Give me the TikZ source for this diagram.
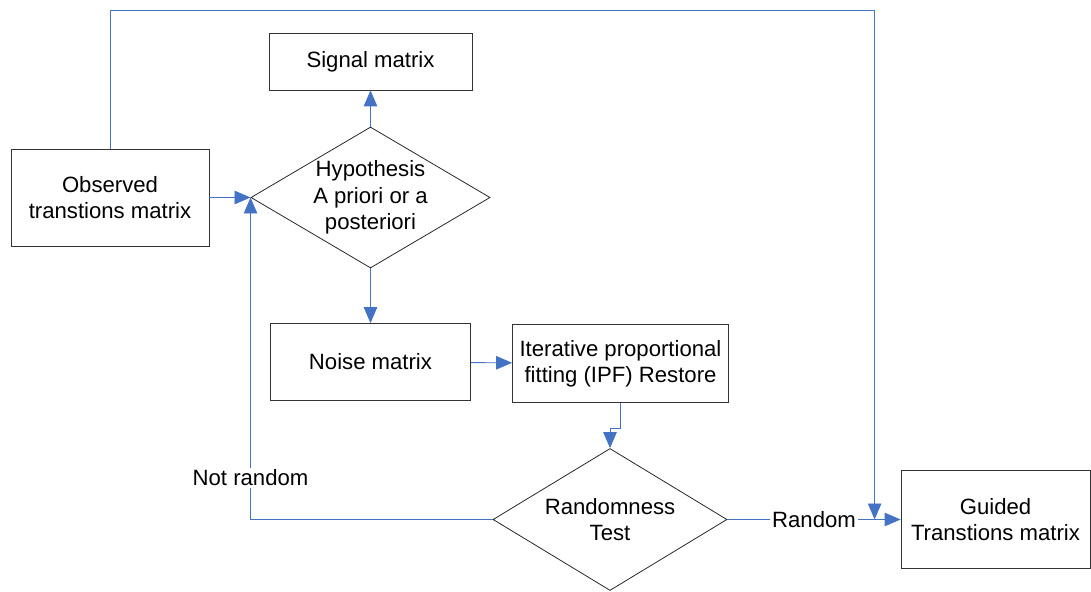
\documentclass[tikz,border=0pt]{standalone}
\usepackage{fontspec}
\setmainfont{Liberation Sans}
\usepackage{tikz}
\usetikzlibrary{positioning,arrows.meta,shapes.geometric,calc}
\definecolor{flowblue}{HTML}{4472C4}

\begin{document}
\begin{tikzpicture}[node distance=2cm,
        font=\fontsize{12.6}{15}\selectfont,
        box/.style={draw=black!80, line width=0.45pt, rectangle, align=center},
        decision/.style={draw=black!85, line width=0.45pt, diamond, aspect=1.7, inner sep=0pt, align=center, minimum width=4.68cm, minimum height=2.82cm},
        flow/.style={draw=flowblue, line width=0.5pt, -{Triangle[length=3.2mm,width=2.7mm]}},
        edgelabel/.style={fill=white, inner sep=1pt}]
        \useasboundingbox (0,0) rectangle (21.82,-11.84);
        \node (hyp) [decision] at (7.41,-3.95) {Hypothesis\\A priori or a\\posteriori};
        \node (signal) [box, minimum width=4.06cm, minimum height=1.14cm, above of=hyp, node distance=2.72cm] {Signal matrix};
        \node (obs) [box, minimum width=3.96cm, minimum height=1.94cm, left of=hyp, node distance=5.21cm] {Observed\\transtions matrix};
        \node (noise) [box, minimum width=4cm, minimum height=1.54cm, below of=hyp, node distance=3.29cm] {Noise matrix};
        \node (ipf) [box, minimum width=4.32cm, minimum height=1.56cm, right of=noise, node distance=5.0cm, yshift=-0.03cm] {Iterative proportional\\fitting (IPF) Restore};
        \node (rand) [decision, minimum height=2.84cm] at (12.2,-10.39) {Randomness\\Test};
        \node (guided) [box, minimum width=3.78cm, minimum height=1.96cm, right of=rand, node distance=7.71cm] {Guided\\Transtions matrix};
        \coordinate (join) at ($(guided.west)+(-0.52,0)$);

        \draw[flow] (obs) -- (hyp.west);
        \draw[flow] (hyp.north) -- (signal);
        \draw[flow] (hyp.south) -- (noise);
        \draw[flow] (noise) -- (ipf);
        \draw[flow] (ipf.south) -- ++(0,-0.52) -| (rand.north);
        \draw[flow] (rand.west) -| node[edgelabel, pos=0.565] {Not random} (hyp.west);
        \draw[flow] (rand.east) -- node[edgelabel] {Random} (guided.west);
        \draw[flow] (obs.north) -- ++(0,2.76) -| (join);
    \end{tikzpicture}
\end{document}
